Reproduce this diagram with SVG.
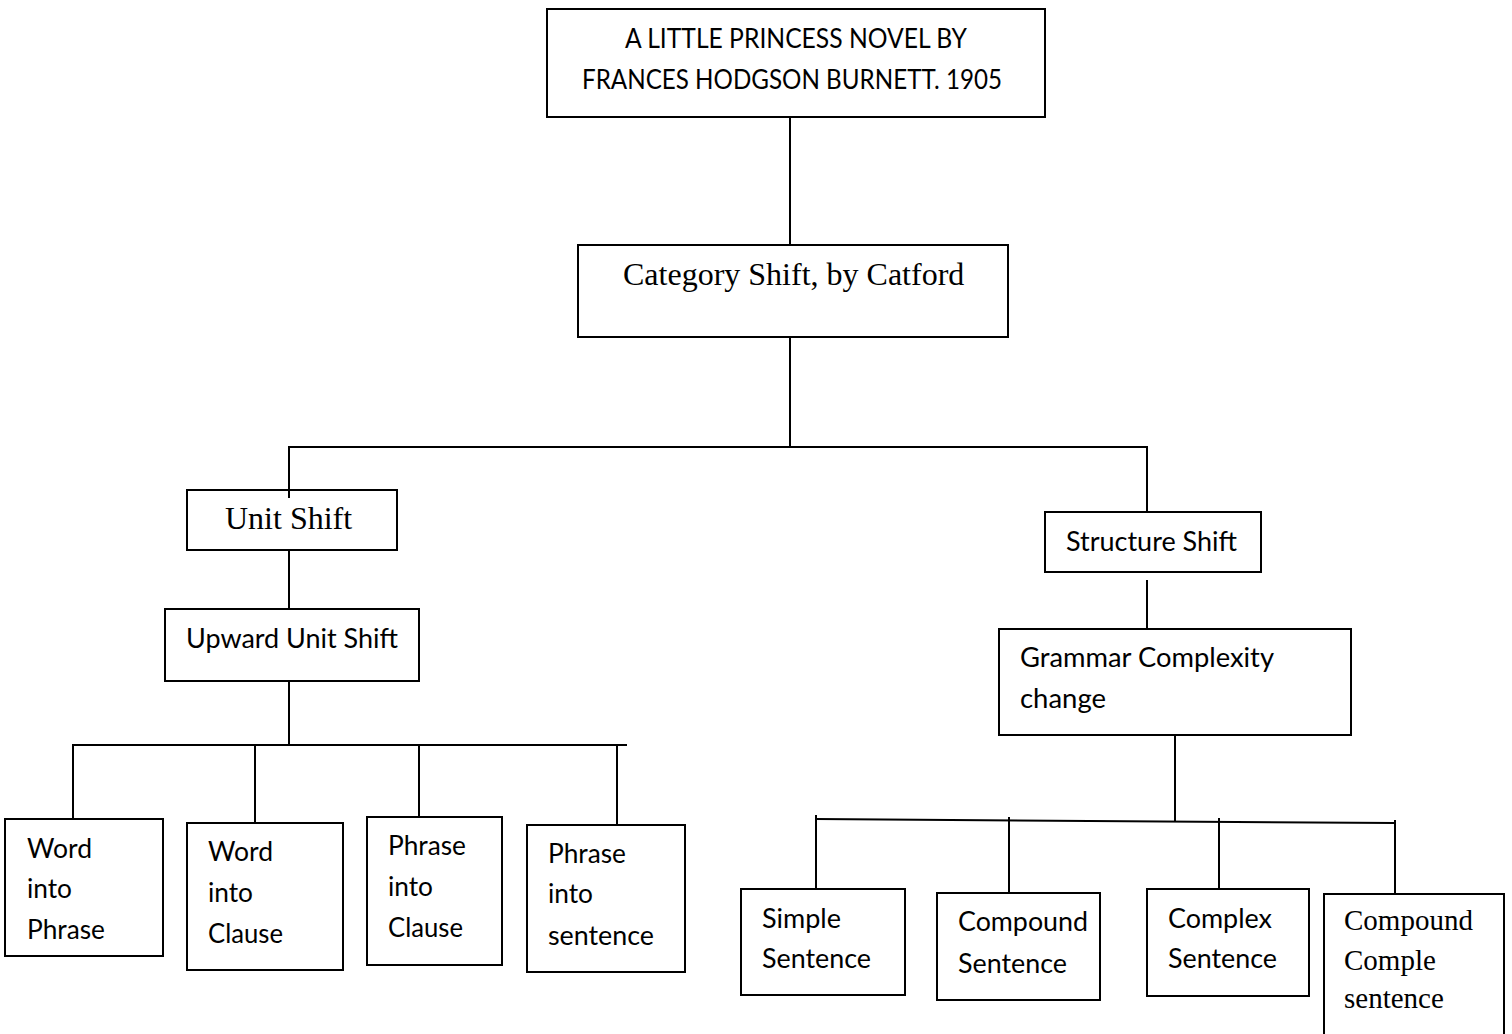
<svg xmlns="http://www.w3.org/2000/svg" width="1512" height="1034" viewBox="0 0 1512 1034">
<style>
.box{fill:#fff;stroke:#000;stroke-width:2}
.ln{stroke:#000;stroke-width:2;fill:none}
.s{font-family:Lato,"Liberation Sans",sans-serif;font-size:27px;fill:#000}
.r{font-family:"Liberation Serif","Times New Roman",serif;fill:#000}
</style>
<rect width="1512" height="1034" fill="#fff"/>
<g id="n-novel">
<rect class="box" x="547" y="9" width="498" height="108"/>
<text class="s" x="625" y="48" textLength="342" lengthAdjust="spacingAndGlyphs">A LITTLE PRINCESS NOVEL BY</text>
<text class="s" x="582" y="89" textLength="420" lengthAdjust="spacingAndGlyphs">FRANCES HODGSON BURNETT. 1905</text>
</g>
<g id="n-category">
<rect class="box" x="578" y="245" width="430" height="92"/>
<text class="r" x="623" y="285" font-size="32">Category Shift, by Catford</text>
</g>
<g id="n-unit">
<rect class="box" x="187" y="490" width="210" height="60"/>
<text class="r" x="225" y="529" font-size="32">Unit Shift</text>
</g>
<g id="n-upward">
<rect class="box" x="165" y="609" width="254" height="72"/>
<text class="s" x="186" y="648" textLength="212" lengthAdjust="spacingAndGlyphs">Upward Unit Shift</text>
</g>
<g id="n-structure">
<rect class="box" x="1045" y="512" width="216" height="60"/>
<text class="s" x="1066" y="551" textLength="171" lengthAdjust="spacingAndGlyphs">Structure Shift</text>
</g>
<g id="n-grammar">
<rect class="box" x="999" y="629" width="352" height="106"/>
<text class="s" x="1020" y="667" textLength="254" lengthAdjust="spacingAndGlyphs">Grammar Complexity</text>
<text class="s" x="1020" y="708" textLength="86" lengthAdjust="spacingAndGlyphs">change</text>
</g>
<g id="n-word-phrase">
<rect class="box" x="5" y="819" width="158" height="137"/>
<text class="s" x="27" y="858" textLength="65" lengthAdjust="spacingAndGlyphs">Word</text>
<text class="s" x="27" y="898" textLength="45" lengthAdjust="spacingAndGlyphs">into</text>
<text class="s" x="27" y="939" textLength="78" lengthAdjust="spacingAndGlyphs">Phrase</text>
</g>
<g id="n-word-clause">
<rect class="box" x="187" y="823" width="156" height="147"/>
<text class="s" x="208" y="861" textLength="65" lengthAdjust="spacingAndGlyphs">Word</text>
<text class="s" x="208" y="902" textLength="45" lengthAdjust="spacingAndGlyphs">into</text>
<text class="s" x="208" y="943" textLength="75" lengthAdjust="spacingAndGlyphs">Clause</text>
</g>
<g id="n-phrase-clause">
<rect class="box" x="367" y="817" width="135" height="148"/>
<text class="s" x="388" y="855" textLength="78" lengthAdjust="spacingAndGlyphs">Phrase</text>
<text class="s" x="388" y="896" textLength="45" lengthAdjust="spacingAndGlyphs">into</text>
<text class="s" x="388" y="937" textLength="75" lengthAdjust="spacingAndGlyphs">Clause</text>
</g>
<g id="n-phrase-sentence">
<rect class="box" x="527" y="825" width="158" height="147"/>
<text class="s" x="548" y="863" textLength="78" lengthAdjust="spacingAndGlyphs">Phrase</text>
<text class="s" x="548" y="903" textLength="45" lengthAdjust="spacingAndGlyphs">into</text>
<text class="s" x="548" y="945" textLength="106" lengthAdjust="spacingAndGlyphs">sentence</text>
</g>
<g id="n-simple">
<rect class="box" x="741" y="889" width="164" height="106"/>
<text class="s" x="762" y="928" textLength="79" lengthAdjust="spacingAndGlyphs">Simple</text>
<text class="s" x="762" y="968" textLength="109" lengthAdjust="spacingAndGlyphs">Sentence</text>
</g>
<g id="n-compound">
<rect class="box" x="937" y="893" width="163" height="107"/>
<text class="s" x="958" y="931" textLength="130" lengthAdjust="spacingAndGlyphs">Compound</text>
<text class="s" x="958" y="973" textLength="109" lengthAdjust="spacingAndGlyphs">Sentence</text>
</g>
<g id="n-complex">
<rect class="box" x="1147" y="889" width="162" height="107"/>
<text class="s" x="1168" y="928" textLength="104" lengthAdjust="spacingAndGlyphs">Complex</text>
<text class="s" x="1168" y="968" textLength="109" lengthAdjust="spacingAndGlyphs">Sentence</text>
</g>
<g id="n-compound-complex">
<rect class="box" x="1324" y="894" width="180" height="150"/>
<text class="r" x="1344" y="930" font-size="29">Compound</text>
<text class="r" x="1344" y="970" font-size="29">Comple</text>
<text class="r" x="1344" y="1008" font-size="29">sentence</text>
</g>
<g id="connectors">
<line class="ln" x1="790" y1="117" x2="790" y2="245"/>
<line class="ln" x1="790" y1="337" x2="790" y2="447"/>
<line class="ln" x1="289" y1="447" x2="1148" y2="447"/>
<line class="ln" x1="289" y1="446" x2="289" y2="498"/>
<line class="ln" x1="1147" y1="446" x2="1147" y2="512"/>
<line class="ln" x1="289" y1="550" x2="289" y2="609"/>
<line class="ln" x1="289" y1="681" x2="289" y2="745"/>
<line class="ln" x1="72" y1="745" x2="627" y2="745"/>
<line class="ln" x1="73" y1="745" x2="73" y2="819"/>
<line class="ln" x1="255" y1="745" x2="255" y2="823"/>
<line class="ln" x1="419" y1="745" x2="419" y2="817"/>
<line class="ln" x1="617" y1="745" x2="617" y2="825"/>
<line class="ln" x1="1147" y1="580" x2="1147" y2="629"/>
<line class="ln" x1="1175" y1="735" x2="1175" y2="821"/>
<line class="ln" x1="816" y1="819" x2="1395" y2="823"/>
<line class="ln" x1="816" y1="815" x2="816" y2="889"/>
<line class="ln" x1="1009" y1="817" x2="1009" y2="893"/>
<line class="ln" x1="1219" y1="818" x2="1219" y2="889"/>
<line class="ln" x1="1395" y1="820" x2="1395" y2="895"/>
</g>
</svg>
